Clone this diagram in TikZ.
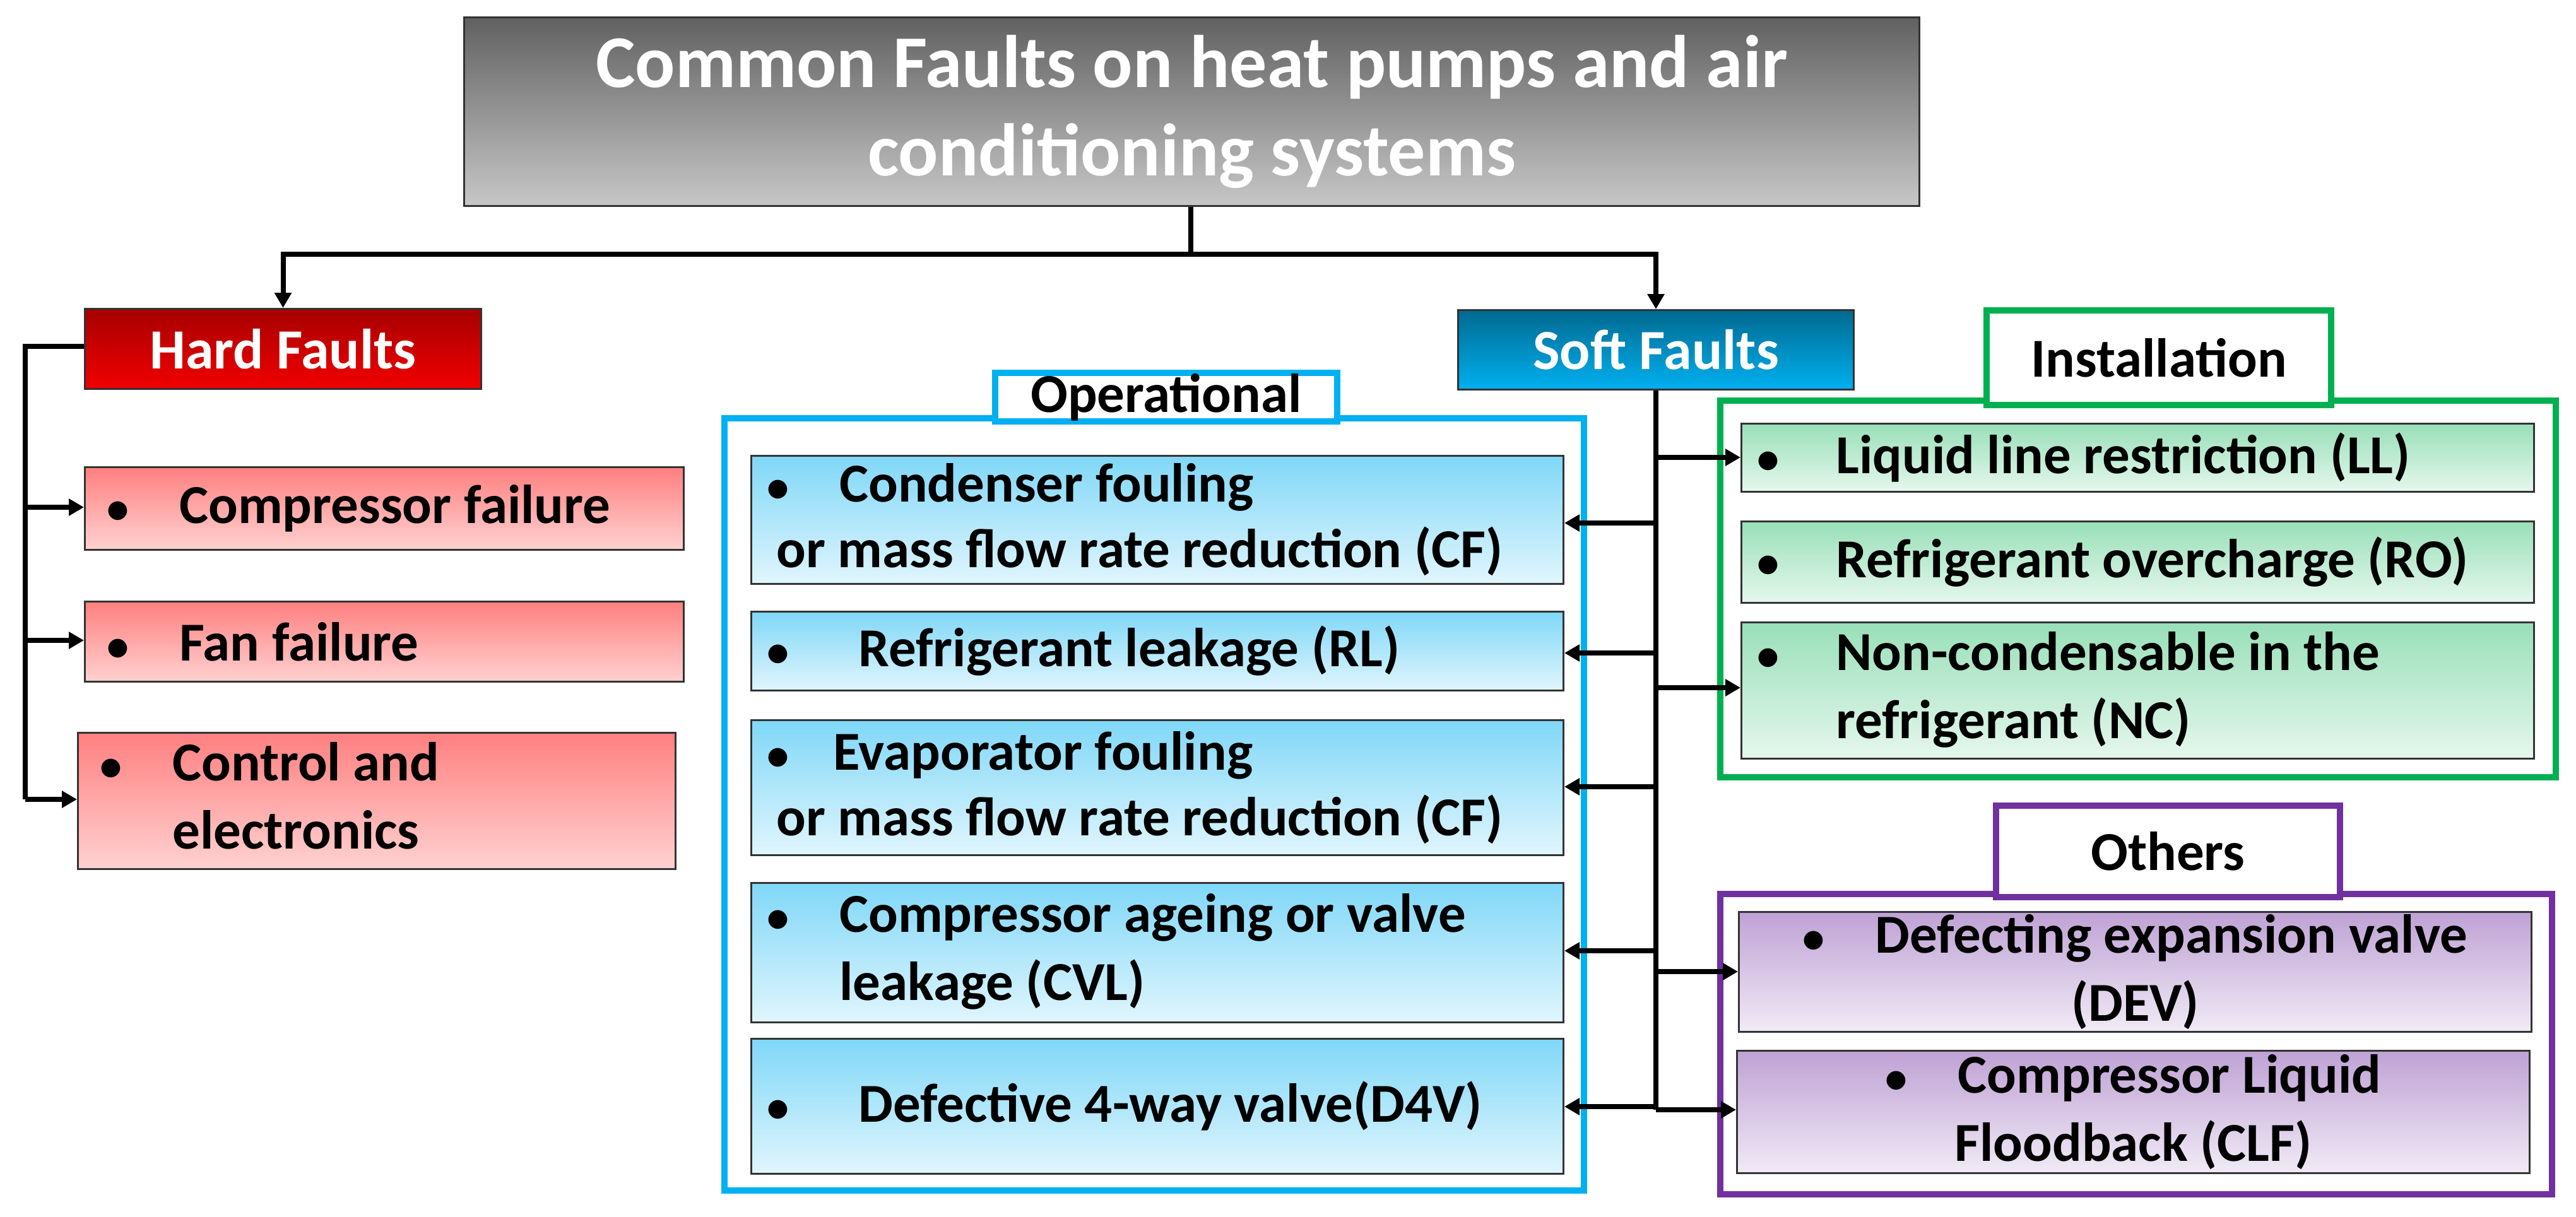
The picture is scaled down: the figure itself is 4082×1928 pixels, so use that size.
\documentclass[tikz,border=0pt]{standalone}
\usepackage{fontspec}
\setmainfont{Carlito}
\usetikzlibrary{arrows.meta}
\definecolor{opblue}{HTML}{00B0F0}
\definecolor{insgreen}{HTML}{00B050}
\definecolor{othpurple}{HTML}{7030A0}
\newcommand\bu{{\fontsize{70}{70}\selectfont\textbullet}}
\begin{document}
\begin{tikzpicture}[x=1pt,y=-1pt,
  font=\bfseries\fontsize{87}{108}\selectfont,
  box/.style={draw=black!80,line width=3pt,anchor=north west,inner xsep=0pt,inner ysep=0pt,align=flush left},
  tw/.style={text width=#1-50pt,minimum width=#1},
  red/.style={box,top color=red!50,bottom color=red!18},
  blu/.style={box,top color=opblue!50,bottom color=opblue!12},
  grn/.style={box,top color=insgreen!40,bottom color=insgreen!10},
  pur/.style={box,top color=othpurple!45,bottom color=othpurple!10},
  frame/.style={line width=10pt},
  tab/.style={frame,fill=white,anchor=north west,inner sep=0pt},
  arr/.style={line width=8pt,-{Triangle[length=24pt,width=26pt]}},
  ln/.style={line width=8pt}]
\useasboundingbox (0,0) rectangle (4082,1928);
% title
\node[box,top color=black!62,bottom color=black!22,minimum width=2306,minimum height=299,text=white,align=center,font=\bfseries\fontsize{118}{140}\selectfont] (title) at (734,26) {Common Faults on heat pumps and air\\conditioning systems};
\node[box,top color=red!65!black,bottom color=red!95!black,minimum width=628,minimum height=127,text=white,align=center,font=\bfseries\fontsize{90}{100}\selectfont] (hard) at (133,488) {Hard Faults};
\node[box,top color=opblue!60!black,bottom color=opblue,minimum width=627,minimum height=126,text=white,align=center,font=\bfseries\fontsize{90}{100}\selectfont] (soft) at (2309,490) {Soft Faults};
\coordinate (j) at (1887,403);
\draw[ln] (title.south-|j) -- (j);
\draw[arr] (j) -| (hard.north);
\draw[arr] (j) -| (soft.north);
% hard items
\node[red,tw=949,minimum height=131] (c1) at (133,739) {\hspace{10pt}\bu\hspace{80pt}Compressor failure};
\node[red,tw=949,minimum height=127] (c2) at (133,952) {\hspace{10pt}\bu\hspace{80pt}Fan failure};
\node[red,tw=947,minimum height=215] (c3) at (122,1160) {\hspace{10pt}\begin{tabular}{@{}l@{\hspace{80pt}}l@{}}\bu&Control and\\&electronics\end{tabular}};
\coordinate (hl) at (40,549);
\coordinate (hb) at (40,1267);
\draw[ln] (hard.west|-hl) -- (hl) -- (hb);
\draw[arr] (40,804) -- (c1.west|-0,804);
\draw[arr] (40,1015) -- (c2.west|-0,1015);
\draw[arr] (hb) -- (c3.west|-hb);
% operational
\draw[frame,draw=opblue] (1148,663) rectangle (2510,1887);
\node[tab,draw=opblue,minimum width=542,minimum height=77] (optab) at (1572,586) {Operational};
\node[blu,tw=1287,minimum height=203] (b1) at (1189,721) {\bu\hspace{80pt}Condenser fouling\\[-4pt]\hspace{15pt}or mass flow rate reduction (CF)};
\node[blu,tw=1287,minimum height=125] (b2) at (1189,968) {\bu\hspace{110pt}Refrigerant leakage (RL)};
\node[blu,tw=1287,minimum height=214] (b3) at (1189,1140) {\bu\hspace{70pt}Evaporator fouling\\[-4pt]\hspace{15pt}or mass flow rate reduction (CF)};
\node[blu,tw=1287,minimum height=221] (b4) at (1189,1398) {\begin{tabular}{@{}l@{\hspace{80pt}}l@{}}\bu&Compressor ageing or valve\\&leakage (CVL)\end{tabular}};
\node[blu,tw=1287,minimum height=214] (b5) at (1189,1645) {\bu\hspace{110pt}Defective 4-way valve(D4V)};
% installation
\draw[frame,draw=insgreen] (2726,635) rectangle (4050,1232);
\node[tab,draw=insgreen,minimum width=546,minimum height=150] (intab) at (3143,487) {Installation};
\node[grn,tw=1256,minimum height=108] (g1) at (2758,670) {\bu\hspace{90pt}Liquid line restriction (LL)};
\node[grn,tw=1256,minimum height=129] (g2) at (2758,825) {\bu\hspace{90pt}Refrigerant overcharge (RO)};
\node[grn,tw=1256,minimum height=214] (g3) at (2758,985) {\begin{tabular}{@{}l@{\hspace{90pt}}l@{}}\bu&Non-condensable in the\\&refrigerant (NC)\end{tabular}};
% others
\draw[frame,draw=othpurple] (2726,1417) rectangle (4044,1893);
\node[tab,draw=othpurple,minimum width=545,minimum height=145] (ottab) at (3158,1272) {Others};
\node[pur,minimum width=1256,minimum height=190,align=center] (p1) at (2754,1444) {\bu\hspace{80pt}Defecting expansion valve\\(DEV)};
\node[pur,minimum width=1256,minimum height=194,align=center] (p2) at (2751,1664) {\bu\hspace{80pt}Compressor Liquid\\Floodback (CLF)};
% soft trunk
\coordinate (sb) at (2624,1759);
\draw[ln] (soft.south-|sb) -- (sb);
\draw[arr] (2624,829) -- (b1.east|-0,829);
\draw[arr] (2624,1035) -- (b2.east|-0,1035);
\draw[arr] (2624,1247) -- (b3.east|-0,1247);
\draw[arr] (2624,1507) -- (b4.east|-0,1507);
\draw[arr] (2624,1754) -- (b5.east|-0,1754);
\draw[arr] (2624,725) -- (g1.west|-0,725);
\draw[arr] (2624,1090) -- (g3.west|-0,1090);
\draw[arr] (2624,1540) -- (p1.west|-0,1540);
\draw[arr] (sb) -- (p2.west|-sb);
\end{tikzpicture}
\end{document}
